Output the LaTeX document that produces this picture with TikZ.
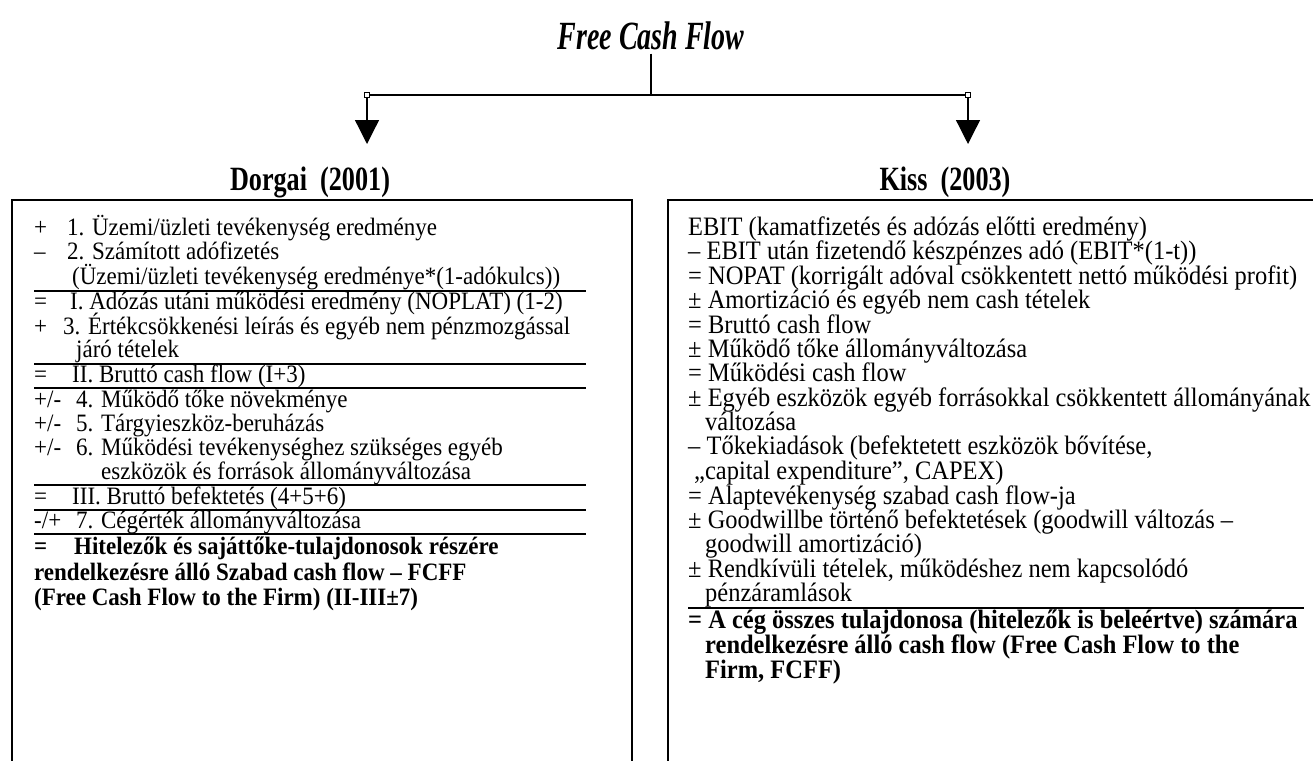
\documentclass[tikz,border=0pt]{standalone}
\usepackage{fontspec}
\setmainfont{Liberation Serif}
\newfontfamily\bodyfont{Liberation Serif}[FakeStretch=0.92]
\usetikzlibrary{arrows.meta}

\tikzset{
  txt/.style={anchor=base west, inner sep=0pt, font=\bodyfont\fontsize{25}{24.4}\selectfont},
  txtb/.style={txt, font=\bodyfont\fontsize{25}{24.4}\selectfont\bfseries},
  rtxt/.style={txt, font=\bodyfont\fontsize{26.6}{24.4}\selectfont},
  rtxtb/.style={txt, font=\bodyfont\fontsize{26.6}{24.4}\selectfont\bfseries},
  head/.style={anchor=base, inner sep=0pt, font=\fontsize{34}{36}\selectfont\bfseries},
  rule/.style={line width=1.2pt},
  frame/.style={draw, line width=1.5pt},
  corner/.style={draw, fill=white, inner sep=0pt, minimum size=5pt, line width=0.8pt},
  flow/.style={line width=1.3pt, -{Triangle[width=24pt,length=24pt]}},
}

\begin{document}
\begin{tikzpicture}[x=1pt,y=-1pt]
\useasboundingbox (0,0) rectangle (1313,760);

% Titolo e rami
\node[anchor=base, inner sep=0pt, font=\fontsize{40}{42}\selectfont\bfseries\itshape] (title) at (651,49) {\scalebox{0.7}[1]{Free Cash Flow}};
\coordinate (mid) at (651,95);
\node[corner] (cl) at (367,95) {};
\node[corner] (cr) at (968,95) {};
\coordinate (tl) at (367,144);
\coordinate (tr) at (968,144);

\draw[line width=1.2pt] ([yshift=-4pt]title.south) -- (mid);
\draw[line width=1.2pt] (cl) -- (cr);
\draw[flow] (cl) -- (tl);
\draw[flow] (cr) -- (tr);

% Intestazioni
\node[head] (dorgai) at (310,190) {\scalebox{0.77}[1]{Dorgai\ \ (2001)}};
\node[head] (kiss) at (945,190) {\scalebox{0.77}[1]{Kiss\ \ (2003)}};

% Riquadri
\draw[frame] (12,200) rectangle (632,775);
\draw[frame] (668,200) rectangle (1330,775);

% Dorgai
\node[txt] (ds1) at (34,235) {+};
\node[txt] (dl1) at (67,235) {1. Üzemi/üzleti tevékenység eredménye};
\node[txt] (ds2) at (34,259) {–};
\node[txt] (dl2) at (67,259) {2. Számított adófizetés};
\node[txt] (dl3) at (72,284) {(Üzemi/üzleti tevékenység eredménye*(1-adókulcs))};
\draw[rule] (34,291) -- (586,291);
\node[txt] (ds4) at (34,309) {=};
\node[txt] (dl4) at (70,309) {I. Adózás utáni működési eredmény (NOPLAT) (1-2)};
\node[txt] (ds5) at (34,334) {+};
\node[txt] (dl5) at (63,334) {3. Értékcsökkenési leírás és egyéb nem pénzmozgással};
\node[txt] (dl6) at (76,357) {járó tételek};
\draw[rule] (34,364) -- (586,364);
\node[txt] (ds7) at (34,382) {=};
\node[txt] (dl7) at (72,382) {II. Bruttó cash flow (I+3)};
\draw[rule] (34,388) -- (586,388);
\node[txt] (ds8) at (34,407) {+/-};
\node[txt] (dl8) at (76,407) {4. Működő tőke növekménye};
\node[txt] (ds9) at (34,431) {+/-};
\node[txt] (dl9) at (76,431) {5. Tárgyieszköz-beruházás};
\node[txt] (ds10) at (34,455) {+/-};
\node[txt] (dl10) at (76,455) {6. Működési tevékenységhez szükséges egyéb};
\node[txt] (dl11) at (101,479) {eszközök és források állományváltozása};
\draw[rule] (34,485) -- (586,485);
\node[txt] (ds12) at (34,504) {=};
\node[txt] (dl12) at (72,504) {III. Bruttó befektetés (4+5+6)};
\draw[rule] (34,510) -- (586,510);
\node[txt] (ds13) at (34,528) {-/+};
\node[txt] (dl13) at (76,528) {7. Cégérték állományváltozása};
\draw[rule] (34,534) -- (586,534);
\node[txtb] (ds14) at (34,554) {=};
\node[txtb] (dl14) at (74,554) {Hitelezők és sajáttőke-tulajdonosok részére};
\node[txtb] (dl15) at (34,580) {rendelkezésre álló Szabad cash flow – FCFF};
\node[txtb] (dl16) at (34,605) {(Free Cash Flow to the Firm) (II-III±7)};

% Kiss
\node[rtxt] (kl1) at (688,235) {EBIT (kamatfizetés és adózás előtti eredmény)};
\node[rtxt] (kl2) at (688,259) {– EBIT után fizetendő készpénzes adó (EBIT*(1-t))};
\node[rtxt] (kl3) at (688,284) {= NOPAT (korrigált adóval csökkentett nettó működési profit)};
\node[rtxt] (kl4) at (688,308) {± Amortizáció és egyéb nem cash tételek};
\node[rtxt] (kl5) at (688,333) {= Bruttó cash flow};
\node[rtxt] (kl6) at (688,357) {± Működő tőke állományváltozása};
\node[rtxt] (kl7) at (688,381) {= Működési cash flow};
\node[rtxt] (kl8) at (688,406) {± Egyéb eszközök egyéb forrásokkal csökkentett állományának};
\node[rtxt] (kl9) at (705,430) {változása};
\node[rtxt] (kl10) at (688,454) {– Tőkekiadások (befektetett eszközök bővítése,};
\node[rtxt] (kl11) at (694,479) {„capital expenditure”, CAPEX)};
\node[rtxt] (kl12) at (688,504) {= Alaptevékenység szabad cash flow-ja};
\node[rtxt] (kl13) at (688,528) {± Goodwillbe történő befektetések (goodwill változás –};
\node[rtxt] (kl14) at (705,552) {goodwill amortizáció)};
\node[rtxt] (kl15) at (688,577) {± Rendkívüli tételek, működéshez nem kapcsolódó};
\node[rtxt] (kl16) at (705,601) {pénzáramlások};
\draw[rule] (688,608) -- (1304,608);
\node[rtxtb] (kl17) at (688,628) {= A cég összes tulajdonosa (hitelezők is beleértve) számára};
\node[rtxtb] (kl18) at (705,653) {rendelkezésre álló cash flow (Free Cash Flow to the};
\node[rtxtb] (kl19) at (705,678) {Firm, FCFF)};
\end{tikzpicture}
\end{document}
